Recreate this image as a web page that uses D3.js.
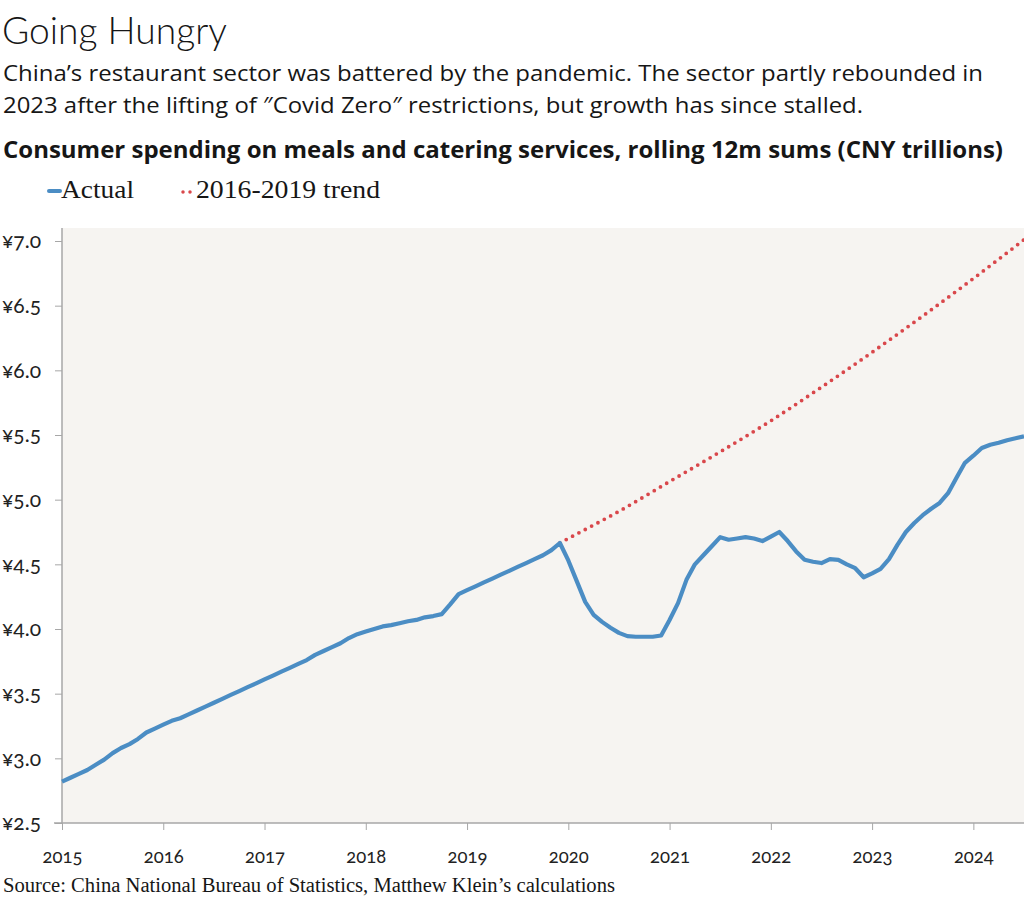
<!DOCTYPE html>
<html>
<head>
<meta charset="utf-8">
<script src="https://cdn.jsdelivr.net/npm/d3@7"></script>
<style>
  html, body { margin: 0; padding: 0; background: #ffffff; }
  svg { display: block; }
  .sans { font-family: Lato, "Noto Sans", sans-serif; font-variant-numeric: oldstyle-nums; }
  .open { font-family: "Open Sans", "Noto Sans", sans-serif; }
  .serif { font-family: "Liberation Serif", "DejaVu Serif", serif; font-variant-numeric: oldstyle-nums; }
</style>
</head>
<body>
<svg id="chart" width="1024" height="905"></svg>
<script>
// ---- Data ----
const startYear = 2015;              // first monthly observation: Jan 2015
// Rolling 12-month sums, CNY trillions, monthly from Jan 2015 to Jul 2024
const actualValues = [
  2.82, 2.85, 2.88, 2.91, 2.95, 2.99, 3.04, 3.08, 3.11, 3.15, 3.20, 3.23,
  3.26, 3.29, 3.31, 3.34, 3.37, 3.40, 3.43, 3.46, 3.49, 3.52, 3.55, 3.58,
  3.61, 3.64, 3.67, 3.70, 3.73, 3.76, 3.80, 3.83, 3.86, 3.89, 3.93, 3.96,
  3.98, 4.00, 4.02, 4.03, 4.045, 4.06, 4.07, 4.09, 4.10, 4.115, 4.19, 4.27,
  4.30, 4.33, 4.36, 4.39, 4.42, 4.45, 4.48, 4.51, 4.54, 4.57, 4.61, 4.665,
  4.53, 4.37, 4.21, 4.11, 4.055, 4.01, 3.97, 3.945, 3.94, 3.94, 3.94, 3.95,
  4.07, 4.20, 4.38, 4.50, 4.57, 4.64, 4.71, 4.69, 4.70, 4.71, 4.70, 4.68,
  4.715, 4.75, 4.68, 4.60, 4.535, 4.52, 4.51, 4.54, 4.535, 4.50, 4.47, 4.40,
  4.43, 4.465, 4.54, 4.65, 4.75, 4.82, 4.88, 4.93, 4.975, 5.05, 5.17, 5.285,
  5.34, 5.40, 5.425, 5.44, 5.46, 5.475, 5.49
];
// 2016-2019 trend, extended from Dec 2019
const trendDates  = [2019 + 11/12, 2020.0, 2020.5, 2021.0, 2021.5, 2022.0, 2022.5, 2023.0, 2023.5, 2024.0, 2024.5];
const trendValues = [4.665, 4.70, 4.91, 5.14, 5.37, 5.61, 5.87, 6.14, 6.42, 6.71, 7.01];
const yTicks = [2.5, 3.0, 3.5, 4.0, 4.5, 5.0, 5.5, 6.0, 6.5, 7.0];
const xTicks = [2015, 2016, 2017, 2018, 2019, 2020, 2021, 2022, 2023, 2024];

const actual = actualValues.map((v, i) => ({ t: startYear + i / 12, v }));
const trend = trendValues.map((v, i) => ({ t: trendDates[i], v }));

// ---- Layout ----
const svg = d3.select("#chart");
const L = 62, R = 1024, T = 228, B = 823;
const x = d3.scaleLinear().domain([2015, 2024.5]).range([L, R]);
const y = d3.scaleLinear().domain([2.5, 7.0]).range([B, 241]);

const blue = "#4b8dc4", red = "#d9474b", axisGrey = "#a7a7a7";

function txt(cls, xp, yp, size, weight, width, s) {
  return svg.append("text").attr("class", cls).attr("x", xp).attr("y", yp)
    .attr("font-size", size).attr("font-weight", weight).attr("fill", "#161616")
    .attr("textLength", width).attr("lengthAdjust", "spacingAndGlyphs")
    .text(s);
}

// Titles
txt("sans", 2, 44, 37, 300, 225, "Going Hungry");
txt("open", 3, 81, 22, 400, 980,
  "China\u2019s restaurant sector was battered by the pandemic. The sector partly rebounded in");
txt("open", 3, 113, 22, 400, 860,
  "2023 after the lifting of \u2033Covid Zero\u2033 restrictions, but growth has since stalled.");
txt("open", 3, 158, 22.5, 700, 1000,
  "Consumer spending on meals and catering services, rolling 12m sums (CNY trillions)");

// Legend
svg.append("line").attr("x1", 49).attr("x2", 60).attr("y1", 191).attr("y2", 191)
  .attr("stroke", blue).attr("stroke-width", 4).attr("stroke-linecap", "round");
txt("serif", 61, 198, 26, 400, 73, "Actual");
svg.append("line").attr("x1", 183).attr("x2", 191).attr("y1", 192).attr("y2", 192)
  .attr("stroke", red).attr("stroke-width", 3.5).attr("stroke-linecap", "round")
  .attr("stroke-dasharray", "0,7");
txt("serif", 196, 198, 26, 400, 184, "2016-2019 trend");

// Plot background
svg.append("rect").attr("x", L).attr("y", T).attr("width", R - L).attr("height", B - T)
  .attr("fill", "#f6f4f1");

// Y axis
const yAxis = svg.append("g").attr("transform", `translate(${L},0)`)
  .call(d3.axisLeft(y).tickValues(yTicks).tickSize(7).tickPadding(14)
    .tickFormat(d => "\u00a5" + d3.format(".1f")(d)));
yAxis.select(".domain").attr("stroke", axisGrey).attr("stroke-width", 1.5)
  .attr("d", `M0,${T}V${B}`);
yAxis.selectAll(".tick line").attr("stroke", axisGrey).attr("stroke-width", 1);
yAxis.selectAll(".tick text").attr("class", "sans").attr("font-size", 21).attr("fill", "#222");

// X axis
const xAxis = svg.append("g").attr("transform", `translate(0,${B})`)
  .call(d3.axisBottom(x).tickValues(xTicks).tickSize(7).tickPadding(20)
    .tickFormat(d3.format("d")));
xAxis.select(".domain").attr("stroke", axisGrey).attr("stroke-width", 1.5)
  .attr("d", `M${L - 8},0H${R}`);
xAxis.selectAll(".tick line").attr("stroke", axisGrey).attr("stroke-width", 1);
xAxis.selectAll(".tick text").attr("class", "sans").attr("font-size", 18.5).attr("fill", "#222");

// Lines
svg.append("path").datum(trend)
  .attr("d", d3.line().x(d => x(d.t)).y(d => y(d.v)).curve(d3.curveMonotoneX))
  .attr("fill", "none").attr("stroke", red).attr("stroke-width", 3.8)
  .attr("stroke-linecap", "round").attr("stroke-dasharray", "0,7.2");
svg.append("path").datum(actual).attr("d", d3.line().x(d => x(d.t)).y(d => y(d.v)))
  .attr("fill", "none").attr("stroke", blue).attr("stroke-width", 4.2)
  .attr("stroke-linejoin", "round");

// Source
txt("serif", 3, 892, 20, 400, 612,
  "Source: China National Bureau of Statistics, Matthew Klein\u2019s calculations");
</script>
</body>
</html>
